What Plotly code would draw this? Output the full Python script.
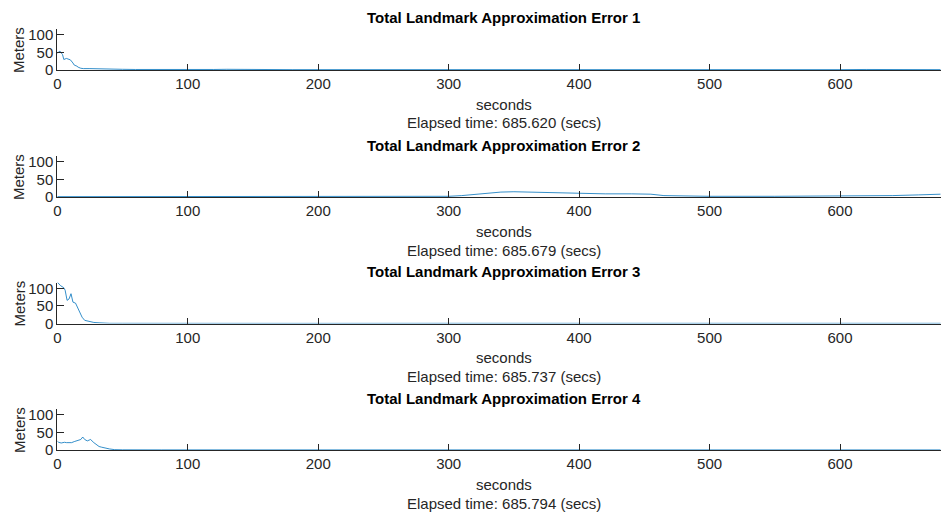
import plotly.graph_objects as go

# Landmark approximation error over time for four runs
t1 = [0, 2, 4, 5, 7, 8, 10, 12, 13, 15, 16, 18, 20, 25, 30, 35, 40, 45, 50, 60, 80,
      100, 120, 130, 140, 160, 180, 200, 250, 300, 350, 400, 450, 500, 550, 600,
      620, 640, 660, 677]
e1 = [48, 54, 44, 30, 33, 31, 29, 20, 14, 11, 8, 5, 4, 4, 4, 3.5, 3, 2.5, 2, 1.5, 1,
      1, 1.5, 2, 1.5, 1, 1, 1, 0.8, 0.8, 0.8, 0.6, 0.6, 0.6, 0.8, 1,
      1.5, 2, 1.5, 1]

t2 = [0, 20, 40, 60, 100, 150, 200, 220, 250, 280, 300, 310, 320, 330, 340, 350,
      360, 375, 390, 400, 420, 440, 455, 465, 480, 500, 550, 600, 620, 640, 660, 677]
e2 = [1, 1, 0.5, 0.3, 0.3, 0.3, 0.5, 1, 1.5, 1, 2, 4, 8, 11, 14, 15,
      14, 13, 11, 10, 9, 9, 8, 4, 3, 2, 2, 2, 2.5, 4, 6, 8]

t3 = [0, 1, 2.5, 5, 6, 7.5, 9, 10.5, 12, 14, 15.5, 17, 19, 21, 24, 28, 32, 35, 40,
      50, 70, 100, 150, 200, 300, 400, 500, 600, 677]
e3 = [118, 113, 108, 102, 95, 66, 70, 85, 61, 58, 47, 37, 18, 9, 6, 3, 2, 1, 0.5,
      0.5, 0.3, 0.3, 0.3, 0.3, 0.5, 0.8, 0.5, 0.5, 0.5]

t4 = [0, 1, 3, 5.5, 7, 9, 11, 13, 16, 18, 19.5, 21, 23, 25.5, 28, 30, 32, 34, 36,
      40, 44, 50, 80, 120, 200, 300, 400, 500, 600, 677]
e4 = [25, 22, 20, 22, 21, 20, 21, 24, 27, 30, 37, 30, 26, 30, 21, 15, 10, 8, 6,
      3, 1, 0.5, 0.3, 0.2, 0.2, 0.2, 0.2, 0.2, 0.2, 0.2]

times = [t1, t2, t3, t4]
errors = [e1, e2, e3, e4]
titles = ["Total Landmark Approximation Error 1", "Total Landmark Approximation Error 2",
          "Total Landmark Approximation Error 3", "Total Landmark Approximation Error 4"]
elapsed = ["685.620", "685.679", "685.737", "685.794"]
x_ticks = [0, 100, 200, 300, 400, 500, 600]
y_ticks = [0, 50, 100]

W, H = 941, 516
X0 = 57.3          # pixel of x = 0
X_MAX = 677.4      # x value at the right edge
Y_MAX = 117
bottoms = [70, 197, 323.5, 450]   # pixel rows of y = 0
AX_H = 41

FONT = "Liberation Sans, Arial, sans-serif"
INK = "#262626"
LINE = "#0072BD"

fig = go.Figure()
layout = dict(
    width=W, height=H, margin=dict(l=0, r=0, t=0, b=0, autoexpand=False),
    paper_bgcolor="white", plot_bgcolor="white", showlegend=False,
    font=dict(family=FONT, size=15, color=INK),
)
annotations = []

for i in range(4):
    n = "" if i == 0 else str(i + 1)
    bot = bottoms[i]
    top = bot - AX_H
    fig.add_trace(go.Scatter(x=times[i], y=errors[i], mode="lines",
                             line=dict(color=LINE, width=0.8),
                             xaxis="x" + n, yaxis="y" + n, hoverinfo="skip"))
    layout["xaxis" + n] = dict(
        domain=[X0 / W, 1], range=[0, X_MAX], anchor="y" + n, automargin=False,
        tickvals=x_ticks, ticks="inside", ticklen=6, tickwidth=1, tickcolor=INK,
        showline=True, linecolor=INK, linewidth=1, showgrid=False, zeroline=False,
        tickfont=dict(family=FONT, size=15, color=INK), fixedrange=True,
    )
    layout["yaxis" + n] = dict(
        domain=[(H - bot) / H, (H - top) / H], range=[0, Y_MAX], anchor="x" + n,
        automargin=False,
        tickvals=y_ticks, ticks="inside", ticklen=7, tickwidth=1, tickcolor=INK,
        showline=True, linecolor=INK, linewidth=1, showgrid=False, zeroline=False,
        tickfont=dict(family=FONT, size=15, color=INK), fixedrange=True,
    )
    cx = 504 / W
    annotations += [
        dict(text="<b>" + titles[i] + "</b>", x=cx, y=1 - (top - 11) / H,
             xref="paper", yref="paper", showarrow=False, xanchor="center",
             yanchor="middle", font=dict(family=FONT, size=15, color="black")),
        dict(text="seconds", x=cx, y=1 - (bot + 34) / H, xref="paper", yref="paper",
             showarrow=False, xanchor="center", yanchor="middle",
             font=dict(family=FONT, size=15, color=INK)),
        dict(text="Elapsed time: " + elapsed[i] + " (secs)", x=cx, y=1 - (bot + 53) / H,
             xref="paper", yref="paper", showarrow=False, xanchor="center",
             yanchor="middle", font=dict(family=FONT, size=15, color=INK)),
        dict(text="Meters", x=19 / W, y=1 - (bot - 20) / H, xref="paper", yref="paper",
             showarrow=False, textangle=-90, xanchor="center", yanchor="middle",
             font=dict(family=FONT, size=15, color=INK)),
    ]

layout["annotations"] = annotations
fig.update_layout(**layout)
fig.write_html("out.html")
